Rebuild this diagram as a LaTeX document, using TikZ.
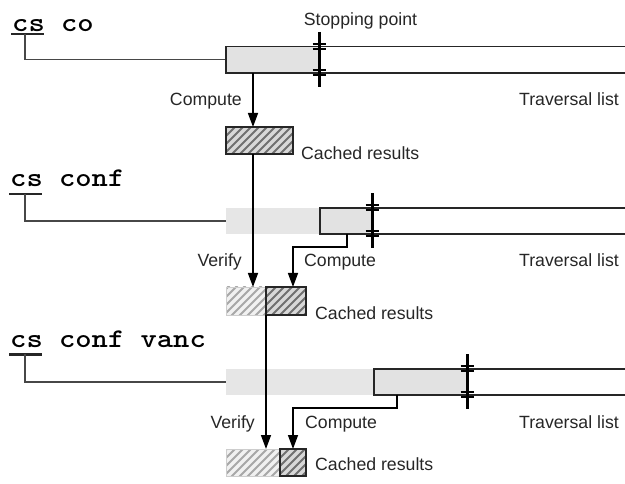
\documentclass[tikz,border=0pt]{standalone}
\usepackage{fontspec}
\setmainfont{Liberation Sans}
\usetikzlibrary{arrows.meta,calc}

\definecolor{ink}{HTML}{262626}
\definecolor{segfill}{HTML}{E2E2E2}
\definecolor{bandfill}{HTML}{E6E6E6}
\definecolor{darkbg}{HTML}{D8D8D8}
\definecolor{darkstripe}{HTML}{707070}
\definecolor{lightbg}{HTML}{F1F1F1}
\definecolor{lightstripe}{HTML}{A8A8A8}
\definecolor{lightedge}{HTML}{CDCDCD}

\tikzset{
  lbl/.style={font=\fontsize{17.7}{20}\selectfont, inner sep=0pt, text=ink},
  code/.style={font=\fontsize{27}{30}\selectfont\ttfamily\bfseries, inner sep=0pt, anchor=base west},
  railline/.style={draw=ink, line width=1.1pt},
  leadline/.style={draw=ink!85, line width=1.2pt},
  uline/.style={draw=ink, line width=2.2pt},
  arr/.style={draw=black, line width=1.5pt, -{Triangle[length=14pt,width=10pt]}},
  stopbar/.style={draw=black, line width=3pt},
  stoptick/.style={draw=black, line width=2pt},
  seg/.style={rectangle, inner sep=0pt, outer sep=0pt, anchor=north west},
  hatched/.style n args={4}{rectangle, inner sep=0pt, outer sep=0pt, anchor=north west,
    fill=#1, draw=#3, line width=#4,
    path picture={
      \foreach \k in {-36,-28,...,76}
        \draw[#2, line width=2pt]
          ($(path picture bounding box.south west)+(\k pt,-2pt)$) -- ++(45pt,45pt);
    }},
  darkhatch/.style={hatched={darkbg}{darkstripe}{ink}{1.3pt}},
  lighthatch/.style={hatched={lightbg}{lightstripe}{lightedge}{0.8pt}},
}

% stopping-point marker: heavy bar with a double tick on each rail
\newcommand\stopmark[3]{%
  \draw[stopbar] (#1,#2-14.5) -- (#1,#3+14.5);
  \foreach \yy in {#2,#3}{
    \draw[stoptick] (#1-6.5,\yy-2.5) -- (#1+6.5,\yy-2.5);
    \draw[stoptick] (#1-6.5,\yy+2.5) -- (#1+6.5,\yy+2.5);
  }}

\begin{document}
\begin{tikzpicture}[x=1pt,y=-1pt]
\useasboundingbox (0,0) rectangle (625,484);

% ---------------- first pass: cs co ----------------
\node[code] (t1) at (12,31.5) {\scalebox{1.15}[1]{cs co}};
\coordinate (u1a) at (11,34.3);
\coordinate (u1b) at (44,34.3);
\coordinate (u1) at (25,34.3);
\draw[uline] (u1a) -- (u1b);
\node[seg, fill=segfill, minimum width=93pt, minimum height=26.5pt] (g1) at (226,46.5) {};
\draw[leadline] (u1) |- (g1.west);
\draw[railline] (625,46.5) -- (g1.north west) -- (g1.south west) -- (625,73);
\stopmark{319}{46.5}{73}
\node[lbl, anchor=base] (sp) at (360.5,26) {Stopping point};
\node[lbl, anchor=base east] (tl1) at (619,106) {Traversal list};

\coordinate (k1) at (253,73);
\node[seg, darkhatch, minimum width=67pt, minimum height=27pt] (c1) at (226,127) {};
\draw[arr] (k1) -- (k1 |- c1.north);
\node[lbl, anchor=base east] (cp1) at (242,106) {Compute};
\node[lbl, anchor=base west] (cr1) at (301,159.5) {Cached results};

% ---------------- second pass: cs conf ----------------
\node[code] (t2) at (10,186.7) {\scalebox{1.15}[1]{cs conf}};
\coordinate (u2a) at (9,194.3);
\coordinate (u2b) at (42,194.3);
\coordinate (u2) at (25,194.3);
\draw[uline] (u2a) -- (u2b);
\node[seg, fill=bandfill, minimum width=94pt, minimum height=26pt] (b2) at (226,208) {};
\node[seg, fill=segfill, minimum width=52pt, minimum height=26pt] (g2) at (320,208) {};
\draw[leadline] (u2) |- (b2.west);
\draw[railline] (625,208) -- (g2.north west) -- (g2.south west) -- (625,234);
\stopmark{372}{208}{234}
\node[lbl, anchor=base east] (tl2) at (619,266.5) {Traversal list};

\node[seg, lighthatch, minimum width=40pt, minimum height=28pt] (c2a) at (226,287) {};
\node[seg, darkhatch, minimum width=40pt, minimum height=28pt] (c2b) at (266,287) {};
\draw[arr] (c1.south -| k1) -- (k1 |- c2a.north);
\coordinate (k2) at (347,234);
\coordinate (m2) at (293,247);
\draw[arr] (k2) |- (m2) -- (m2 |- c2b.north);
\node[lbl, anchor=base east] (vf2) at (242,266.5) {Verify};
\node[lbl, anchor=base west] (cp2) at (304,266.5) {Compute};
\node[lbl, anchor=base west] (cr2) at (315,319.5) {Cached results};

% ---------------- third pass: cs conf vanc ----------------
\node[code] (t3) at (10,348) {\scalebox{1.15}[1]{cs conf vanc}};
\coordinate (u3a) at (9,354.5);
\coordinate (u3b) at (42,354.5);
\coordinate (u3) at (25,354.5);
\draw[uline] (u3a) -- (u3b);
\node[seg, fill=bandfill, minimum width=148pt, minimum height=26pt] (b3) at (226,369) {};
\node[seg, fill=segfill, minimum width=93pt, minimum height=26pt] (g3) at (374,369) {};
\draw[leadline] (u3) |- (b3.west);
\draw[railline] (625,369) -- (g3.north west) -- (g3.south west) -- (625,395);
\stopmark{467}{369}{395}
\node[lbl, anchor=base east] (tl3) at (619,428.5) {Traversal list};

\node[seg, lighthatch, minimum width=54pt, minimum height=27pt] (c3a) at (226,449) {};
\node[seg, darkhatch, minimum width=26pt, minimum height=27pt] (c3b) at (280,449) {};
\draw[arr] (c2a.south east) -- (c2a.south east |- c3a.north);
\coordinate (k3) at (397,395);
\coordinate (m3) at (293,408);
\draw[arr] (k3) |- (m3) -- (m3 |- c3b.north);
\node[lbl, anchor=base east] (vf3) at (255,428.5) {Verify};
\node[lbl, anchor=base west] (cp3) at (305,428.5) {Compute};
\node[lbl, anchor=base west] (cr3) at (315,471) {Cached results};
\end{tikzpicture}
\end{document}
